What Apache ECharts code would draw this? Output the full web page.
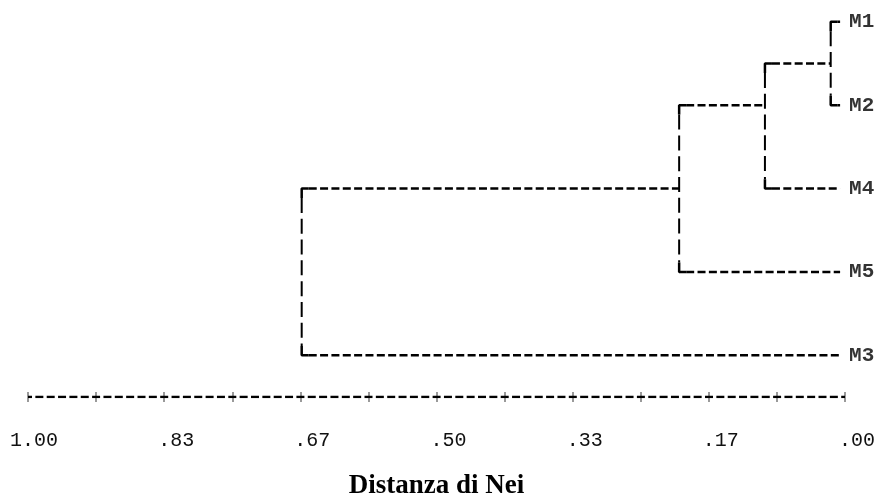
<!DOCTYPE html>
<html>
<head>
<meta charset="utf-8">
<script src="https://cdn.jsdelivr.net/npm/echarts@6/dist/echarts.min.js"></script>
<style>
  html, body { margin: 0; padding: 0; background: #fff; }
  #dendro { width: 883px; height: 500px; }
</style>
</head>
<body>
<div id="dendro"></div>
<script>
// leaves, top to bottom (text rows of the printout)
var leafNames = ['M1', 'M2', 'M4', 'M5', 'M3'];
var leafRows = [0, 4, 8, 12, 16];
var leafEnd = 0.006;

// merge nodes (Nei distance), the rows their bracket spans
var nodeDist = [0.0175, 0.098, 0.203, 0.665];
var nodeTop = [0, 2, 4, 8];
var nodeBottom = [4, 8, 12, 16];
var nodeTopChild = ['M1', 0, 1, 2];      // number = another node
var nodeBottomChild = ['M2', 'M4', 'M5', 'M3'];

// axis
var tickLabels = ['1.00', '.83', '.67', '.50', '.33', '.17', '.00'];
var axisSteps = 12;
var axisRow = 18;

var dendro = echarts.init(document.getElementById('dendro'));

var armLen = 0.0086;   // short solid arm of the corner
var cornerRows = 0.45;

function childX(c) {
    return typeof c === 'number' ? nodeDist[c] : leafEnd;
}

var series = [];
var hStyle = { color: '#000', width: 2.5, type: [8, 3.35] };
var vStyle = { color: '#000', width: 2, type: [15, 5.8] };
var cStyle = { color: '#000', width: 2.5, type: 'solid' };

function seg(points, style) {
    series.push({
        type: 'line',
        data: points,
        symbol: 'none',
        silent: true,
        lineStyle: style
    });
}

for (var i = 0; i < nodeDist.length; i++) {
    var x = nodeDist[i], t = nodeTop[i], b = nodeBottom[i];
    // corners ┌ └
    seg([[x - armLen, t], [x, t], [x, t + cornerRows]], cStyle);
    seg([[x, b - cornerRows], [x, b], [x - armLen, b]], cStyle);
    // vertical
    seg([[x, t + cornerRows], [x, b - cornerRows]], vStyle);
    // horizontals towards the children
    var xt = childX(nodeTopChild[i]), xb = childX(nodeBottomChild[i]);
    if (x - armLen > xt) seg([[x - armLen, t], [xt, t]], hStyle);
    if (x - armLen > xb) seg([[x - armLen, b], [xb, b]], hStyle);
}

// the "-----" of the printed scale
seg([[1, axisRow], [0, axisRow]], { color: '#000', width: 2.5, type: [8, 3.35], dashOffset: 4 });

// leaf names
series.push({
    type: 'scatter',
    symbolSize: 0,
    silent: true,
    data: leafNames.map(function (n, k) {
        return { name: n, value: [leafEnd, leafRows[k]] };
    }),
    label: {
        show: true,
        position: 'right',
        distance: 9,
        formatter: '{b}',
        fontFamily: 'Liberation Mono',
        fontWeight: 'bold',
        fontSize: 21,
        color: '#000'
    }
});

var tickStyle = { color: '#7a7a7a', width: 1.5 };

dendro.setOption({
    animation: false,
    grid: [
        { left: 28, right: 38, top: 1, bottom: 103, outerBoundsMode: 'none' },
        { left: 28, right: 38, top: 1, bottom: 103, outerBoundsMode: 'none' }
    ],
    xAxis: [{
        type: 'value',
        gridIndex: 0,
        inverse: true,
        min: 0,
        max: 1,
        interval: 1 / axisSteps,
        splitLine: { show: false },
        axisLine: { show: false, onZero: false },
        axisTick: { show: true, length: 5, lineStyle: tickStyle },
        axisLabel: {
            margin: 34,
            fontFamily: 'Liberation Mono',
            fontSize: 20,
            color: '#111',
            formatter: function (v) {
                var idx = Math.round(v * axisSteps);
                if (idx % 2 !== 0) return '';
                return tickLabels[6 - idx / 2].padStart(5, ' ');
            }
        },
        name: 'Distanza di Nei',
        nameLocation: 'middle',
        nameGap: 76,
        nameTextStyle: {
            fontFamily: 'Liberation Serif',
            fontWeight: 'bold',
            fontSize: 27,
            color: '#000'
        }
    }, {
        // upper arm of the "+" marks
        type: 'value',
        gridIndex: 1,
        inverse: true,
        min: 0,
        max: 1,
        interval: 1 / axisSteps,
        splitLine: { show: false },
        axisLine: { show: false, onZero: false },
        axisTick: { show: true, inside: true, length: 5, lineStyle: tickStyle },
        axisLabel: { show: false }
    }],
    yAxis: [{
        type: 'value', gridIndex: 0, inverse: true, min: -1, max: 18, show: false
    }, {
        type: 'value', gridIndex: 1, inverse: true, min: -1, max: 18, show: false
    }],
    series: series
});
</script>
</body>
</html>
